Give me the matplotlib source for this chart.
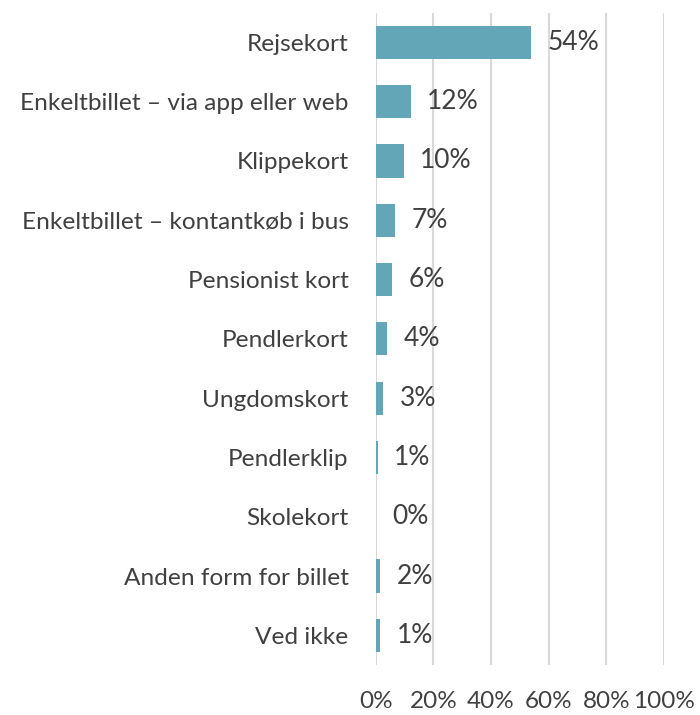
import matplotlib
matplotlib.use("Agg")
import matplotlib.pyplot as plt
from matplotlib.ticker import PercentFormatter

categories = ["Rejsekort", "Enkeltbillet – via app eller web", "Klippekort",
              "Enkeltbillet – kontantkøb i bus", "Pensionist kort", "Pendlerkort",
              "Ungdomskort", "Pendlerklip", "Skolekort", "Anden form for billet", "Ved ikke"]
values = [54.0, 12.1, 9.7, 6.8, 5.5, 4.0, 2.5, 0.7, 0.1, 1.5, 1.4]
value_labels = ["54%", "12%", "10%", "7%", "6%", "4%", "3%", "1%", "0%", "2%", "1%"]
xticks = [0, 20, 40, 60, 80, 100]

plt.rcParams['font.family'] = ['Lato', 'DejaVu Sans']
text_color = "#404040"
bar_color = "#62A6B8"

fig = plt.figure(figsize=(7.0, 7.15), dpi=100)
ax = fig.add_axes([375.7/700, 1-665/715, (664-375.7)/700, (665-12.7)/715])

y = list(range(len(categories)))
ax.barh(y, values, height=0.56, color=bar_color, zorder=3)
ax.set_ylim(len(categories)-0.5, -0.5)
ax.set_xlim(0, 100)
ax.set_yticks(y)
ax.set_yticklabels(categories, fontsize=17.6, color=text_color)
ax.set_xticks(xticks)
ax.xaxis.set_major_formatter(PercentFormatter(decimals=0))
ax.tick_params(axis='x', labelsize=17.5, colors=text_color, length=0, pad=18.5)
ax.tick_params(axis='y', length=0, pad=19.5)
for lbl in ax.get_xticklabels():
    lbl.set_color(text_color)

ax.grid(axis='x', color="#D9D9D9", linewidth=1.5, zorder=0)
for s in ax.spines.values():
    s.set_visible(False)

for yi, v, lab in zip(y, values, value_labels):
    ax.annotate(lab, (v, yi), xytext=(12, 0), textcoords='offset points',
                va='center', ha='left', fontsize=19, color=text_color)

fig.savefig("out.png", dpi=100)
